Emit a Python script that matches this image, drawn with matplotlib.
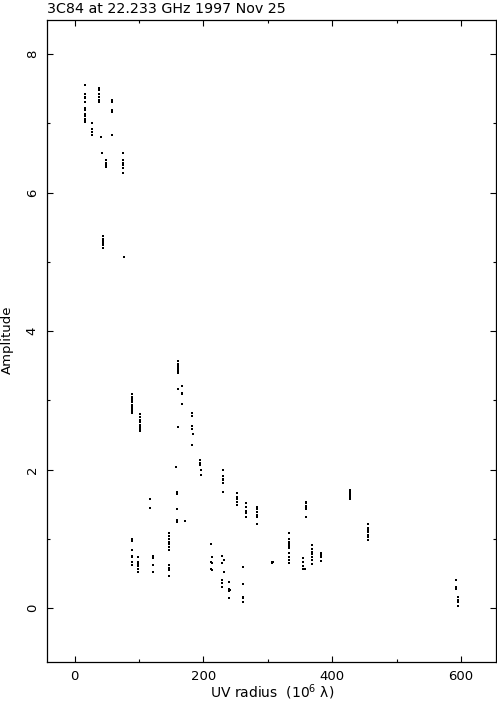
import matplotlib
matplotlib.use("Agg")
import matplotlib.pyplot as plt
from matplotlib.ticker import MultipleLocator

title = "3C84 at 22.233 GHz 1997 Nov 25"
xlabel = r"UV radius  (10$^{6}$ λ)"
ylabel = "Amplitude"

# short baselines (UV radius in 10^6 lambda, amplitude)
uv_short = [16]*12 + [37]*6 + [57.5]*5 + [27]*4 + [41, 42] + [48.5]*4 + [74.6]*6 + [44]*6 + [76]
amp_short = [7.55, 7.43, 7.38, 7.36, 7.31, 7.22, 7.19, 7.14, 7.10, 7.07, 7.05, 7.02,
             7.51, 7.48, 7.43, 7.38, 7.34, 7.31,
             7.34, 7.31, 7.19, 7.17, 6.83,
             7.00, 6.92, 6.87, 6.83,
             6.80, 6.57,
             6.47, 6.43, 6.40, 6.37,
             6.57, 6.47, 6.43, 6.40, 6.36, 6.28,
             5.37, 5.33, 5.30, 5.27, 5.24, 5.20,
             5.07]

# intermediate baselines
uv_mid = ([89.6]*10 + [102]*8 + [161]*8 + [167]*4 + [182, 182, 182, 183, 183.5, 183]
          + [161, 157, 194, 194, 194.5, 196, 196] + [159.5]*5 + [171.5] + [117, 117]
          + [231]*6 + [252]*5 + [266]*5 + [283]*6)
amp_mid = ([3.09, 3.05, 3.02, 3.00, 2.97, 2.93, 2.90, 2.87, 2.84, 2.81]
           + [2.80, 2.76, 2.72, 2.68, 2.65, 2.62, 2.58, 2.55]
           + [3.57, 3.53, 3.50, 3.47, 3.44, 3.41, 3.39, 3.17]
           + [3.20, 3.11, 3.09, 2.94]
           + [2.81, 2.77, 2.58, 2.63, 2.52, 2.36]
           + [2.62, 2.03, 2.14, 2.09, 2.06, 1.99, 1.92]
           + [1.67, 1.64, 1.43, 1.27, 1.24] + [1.25] + [1.58, 1.44]
           + [2.00, 1.90, 1.87, 1.85, 1.80, 1.67]
           + [1.66, 1.61, 1.58, 1.53, 1.49]
           + [1.51, 1.46, 1.40, 1.37, 1.31]
           + [1.46, 1.43, 1.39, 1.35, 1.32, 1.22])

# low-amplitude points and long baselines
uv_long = ([360]*6 + [428]*6 + [456]*7 + [333]*10 + [355, 355, 355, 355, 358] + [369]*7
           + [382]*4 + [306, 308.7, 307] + [89.6]*7 + [99]*6 + [121]*4 + [147]*11
           + [212, 214, 212, 214, 212, 214] + [229.5]*5 + [232.5]*2 + [239, 239, 239, 239, 240.5]
           + [262]*5 + [592, 592, 592, 596, 596, 595, 596])
amp_long = ([1.53, 1.51, 1.48, 1.46, 1.43, 1.31]
            + [1.70, 1.68, 1.66, 1.63, 1.61, 1.57]
            + [1.22, 1.15, 1.12, 1.10, 1.06, 1.03, 0.98]
            + [1.08, 1.00, 0.96, 0.93, 0.89, 0.86, 0.79, 0.74, 0.69, 0.65]
            + [0.72, 0.67, 0.60, 0.57, 0.56]
            + [0.91, 0.85, 0.81, 0.78, 0.74, 0.70, 0.64]
            + [0.79, 0.76, 0.74, 0.68]
            + [0.65, 0.67, 0.66]
            + [1.00, 0.97, 0.84, 0.75, 0.73, 0.67, 0.62]
            + [0.73, 0.67, 0.64, 0.60, 0.56, 0.52]
            + [0.75, 0.72, 0.62, 0.52]
            + [1.09, 1.04, 1.00, 0.96, 0.92, 0.88, 0.84, 0.62, 0.58, 0.55, 0.46]
            + [0.93, 0.73, 0.67, 0.65, 0.57, 0.55]
            + [0.75, 0.65, 0.41, 0.36, 0.31]
            + [0.70, 0.52]
            + [0.38, 0.27, 0.24, 0.14, 0.26]
            + [0.59, 0.35, 0.16, 0.14, 0.09]
            + [0.40, 0.31, 0.28, 0.16, 0.12, 0.08, 0.03])

W, H = 497, 704
fig = plt.figure(figsize=(W/100, H/100), dpi=100)
left, right, bottom, top = 47/W, 495.7/W, 1 - 661.7/H, 1 - 19.5/H
ax = fig.add_axes([left, bottom, right - left, top - bottom])

for u, a in [(uv_short, amp_short), (uv_mid, amp_mid), (uv_long, amp_long)]:
    ax.scatter(u, a, s=1.0, marker='s', c='black', linewidths=0)

ax.set_xlim(-43, 654)
ax.set_ylim(-0.775, 8.5)
ax.xaxis.set_major_locator(MultipleLocator(200))
ax.xaxis.set_minor_locator(MultipleLocator(100))
ax.yaxis.set_major_locator(MultipleLocator(2))
ax.yaxis.set_minor_locator(MultipleLocator(1))
ax.tick_params(which='both', direction='in', top=True, right=True, width=0.8, colors='black')
ax.tick_params(which='major', length=4.5)
ax.tick_params(which='minor', length=2.2)
ax.tick_params(axis='x', labelsize=9.5, pad=6)
ax.tick_params(axis='y', labelsize=9.5, pad=6)
for lbl in ax.get_yticklabels():
    lbl.set_rotation(90)
    lbl.set_va('center')
for sp in ax.spines.values():
    sp.set_linewidth(0.9)

fig.text(272/W, 1 - 692/H, xlabel, ha='center', va='center', fontsize=10)
fig.text(7/W, 1 - 340/H, ylabel, ha='center', va='center', rotation=90, fontsize=9.5)
fig.text(47/W, 1 - 2/H, title, ha='left', va='top', fontsize=10.3)

fig.savefig("out.png", dpi=100)
